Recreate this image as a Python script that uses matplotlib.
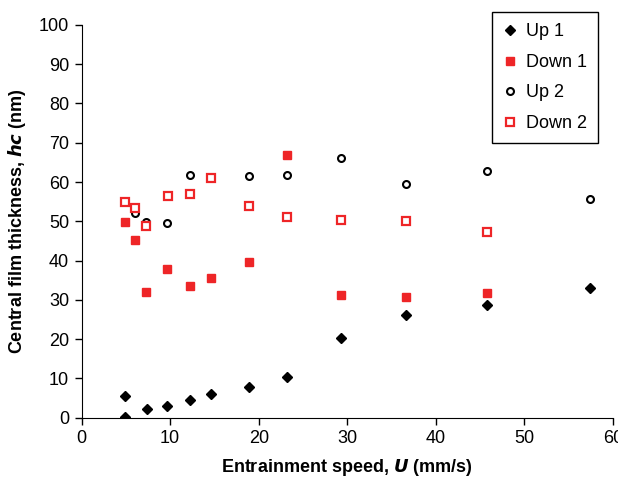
import matplotlib
matplotlib.use("Agg")
import matplotlib.pyplot as plt

plt.rcParams['font.family'] = ['Liberation Sans', 'DejaVu Sans']

# entrainment speed (mm/s) and central film thickness (nm)
u_up1 = [4.9, 4.9, 7.4, 9.7, 12.2, 14.6, 18.9, 23.2, 29.3, 36.6, 45.8, 57.4]
hc_up1 = [5.5, 0.3, 2.1, 2.9, 4.4, 6.0, 7.7, 10.3, 20.2, 26.2, 28.6, 33.1]

u_down1 = [4.9, 6.0, 7.3, 9.7, 12.2, 14.6, 18.9, 23.2, 29.3, 36.6, 45.8]
hc_down1 = [49.8, 45.2, 31.9, 37.8, 33.5, 35.5, 39.6, 66.8, 31.2, 30.7, 31.7]

u_up2 = [6.0, 7.3, 9.7, 12.2, 18.9, 23.2, 29.3, 36.6, 45.8, 57.4]
hc_up2 = [52.1, 49.8, 49.6, 61.8, 61.6, 61.9, 66.2, 59.6, 62.9, 55.7]

u_down2 = [4.9, 6.0, 7.3, 9.8, 12.2, 14.6, 18.9, 23.2, 29.3, 36.6, 45.8]
hc_down2 = [54.9, 53.3, 48.8, 56.5, 57.0, 61.1, 54.0, 51.2, 50.3, 50.1, 47.3]

red = '#ee2527'

fig = plt.figure(figsize=(6.18, 4.79), dpi=100)
ax = fig.add_axes([0.132, 0.128, 0.860, 0.820])

ax.plot(u_up1, hc_up1, 'D', color='black', ms=5.5, label='Up 1')
ax.plot(u_down1, hc_down1, 's', color=red, ms=5.5, label='Down 1')
ax.plot(u_up2, hc_up2, 'o', mfc='white', mec='black', mew=1.5, ms=5, label='Up 2')
ax.plot(u_down2, hc_down2, 's', mfc='white', mec=red, mew=1.6, ms=5.5, label='Down 2')

ax.set_xlim(0, 60)
ax.set_ylim(0, 100)
ax.set_xticks(range(0, 61, 10))
ax.set_yticks(range(0, 101, 10))
ax.spines['top'].set_visible(False)
ax.spines['right'].set_visible(False)
ax.tick_params(labelsize=13, length=5, width=1, direction='out', pad=4)

ax.set_xlabel('Entrainment speed, $\\bfit{U}$ (mm/s)', fontsize=13, fontweight='bold', labelpad=7)
ax.set_ylabel('Central film thickness, $\\bfit{hc}$ (nm)', fontsize=13, fontweight='bold', labelpad=8)

leg = ax.legend(loc='upper right', bbox_to_anchor=(0.968, 0.974), bbox_transform=fig.transFigure,
                fontsize=13, fancybox=False, edgecolor='black', framealpha=1,
                handlelength=0.8, handletextpad=0.5, labelspacing=0.75,
                borderpad=0.6, borderaxespad=0)
leg.get_frame().set_linewidth(1)

fig.savefig('out.png', dpi=100)
